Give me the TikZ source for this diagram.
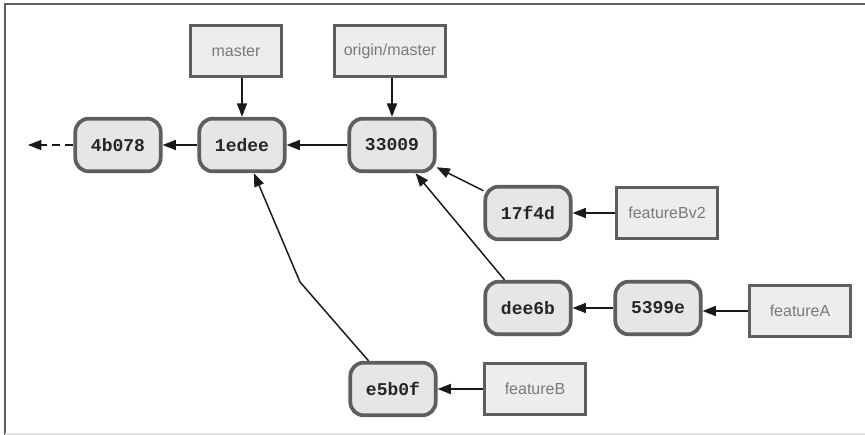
\documentclass[tikz,border=0pt]{standalone}
\usepackage{fontspec}
\setmainfont{Liberation Sans}
\setmonofont{Liberation Mono}
\usetikzlibrary{arrows.meta}
\definecolor{edge}{HTML}{5E5E5E}
\definecolor{cfill}{HTML}{E6E6E6}
\definecolor{bfill}{HTML}{EDEDED}
\definecolor{btext}{HTML}{7A7A7A}

\begin{document}
\begin{tikzpicture}[x=0.75pt,y=-0.75pt,>={Triangle[length=10pt,width=7.5pt]},
  commit/.style={draw=edge,line width=2.8pt,fill=cfill,rounded corners=10pt,minimum width=64pt,minimum height=39.5pt,font=\ttfamily\bfseries\fontsize{13.5}{15}\selectfont,text=black!85},
  branch/.style={draw=edge,line width=1.8pt,fill=bfill,minimum height=38.5pt,inner xsep=7pt,font=\fontsize{12}{14}\selectfont,text=btext},
  link/.style={->,line width=1.1pt,black!90}]
\useasboundingbox (0,0) rectangle (865,435);
% frame
\draw[edge,line width=1.5pt] (5,435) -- (5,4) -- (865,4);
\draw[black!12,line width=1pt] (5,434) -- (865,434);
% commits
\node[commit] (c4b078) at (118,145) {4b078};
\node[commit] (c1edee) at (242,145) {1edee};
\node[commit] (c33009) at (392,145) {33009};
\node[commit] (c17f4d) at (528,213) {17f4d};
\node[commit] (cdee6b) at (528,308) {dee6b};
\node[commit] (c5399e) at (658,308) {5399e};
\node[commit] (ce5b0f) at (393,389) {e5b0f};
% branches
\node[branch,minimum width=68pt] (master) at (236,51) {master};
\node[branch] (origin) at (390,51) {origin/master};
\node[branch,minimum width=76pt] (featBv2) at (667,213) {featureBv2};
\node[branch,minimum width=76pt] (featA) at (800,311) {featureA};
\node[branch,minimum width=76pt] (featB) at (535,389) {featureB};
\coordinate (tail) at (28,145);
\coordinate (bend) at (300,282);
% history
\draw[link,dash pattern=on 6pt off 4pt] (c4b078) -- (tail);
\draw[link] (c1edee) -- (c4b078);
\draw[link] (c33009) -- (c1edee);
\draw[link] (c17f4d) -- (c33009);
\draw[link] (cdee6b) -- (c33009);
\draw[link] (c5399e) -- (cdee6b);
\draw[link] (ce5b0f) -- (bend) -- (c1edee);
% refs
\draw[link] (master.south -| c1edee.north) -- (c1edee.north);
\draw[link] (origin.south -| c33009.north) -- (c33009.north);
\draw[link] (featBv2) -- (c17f4d);
\draw[link] (featA.west) -- (featA.west -| c5399e.east);
\draw[link] (featB) -- (ce5b0f);
\end{tikzpicture}
\end{document}
